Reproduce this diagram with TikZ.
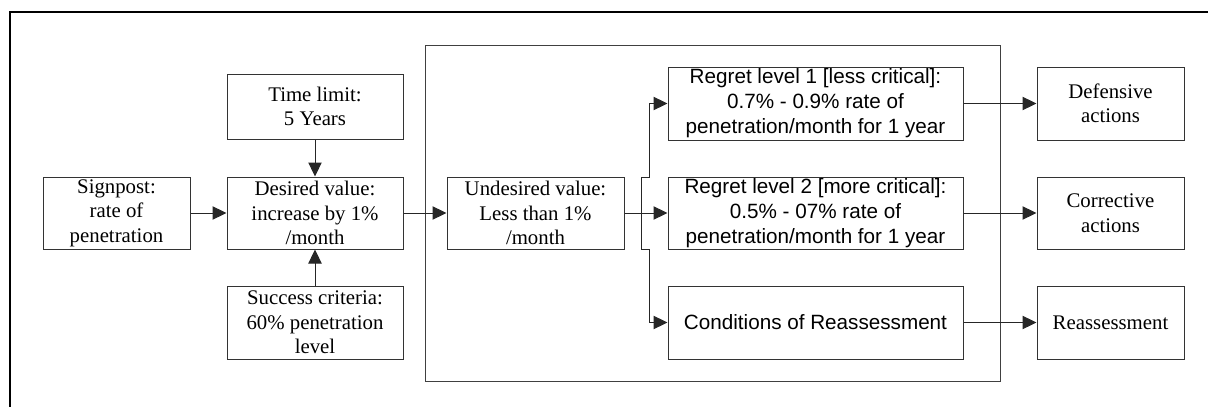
\documentclass[tikz,border=0pt]{standalone}
\usepackage{fontspec}
\setmainfont{Liberation Serif}
\newfontfamily\arialfont{Liberation Sans}
\usetikzlibrary{arrows.meta}
\tikzset{
  box/.style={draw=black!80, line width=0.75pt, inner sep=0pt, align=center},
  serif/.style={box, font=\fontsize{15.6}{18.4}\selectfont},
  sans/.style={box, font=\arialfont\fontsize{15.5}{18.75}\selectfont},
  conn/.style={draw=black!85, line width=0.75pt},
  arr/.style={conn, -{Triangle[length=10.5pt, width=10pt]}},
}
\begin{document}
\begin{tikzpicture}[x=0.75pt, y=-0.75pt]
\useasboundingbox (0,0) rectangle (1208,407);
% outer frame (top and left only visible)
\draw[line width=1.5pt, line cap=rect] (9.5,407) -- (9.5,12) -- (1208,12);
% container box
\node[draw=black!75, line width=0.75pt, inner sep=0pt, minimum width=431.25pt, minimum height=252pt] (cont) at (712.5,213) {};
% left part
\node[serif, minimum width=110.25pt, minimum height=54pt] (sign) at (116.5,213) {Signpost:\\rate of\\penetration};
\node[serif, minimum width=132pt, minimum height=48.75pt] (time) at (315,106.5) {Time limit:\\5 Years};
\node[serif, minimum width=132pt, minimum height=54pt] (des) at (315,213) {Desired value:\\increase by 1\%\\/month};
\node[serif, minimum width=132pt, minimum height=54.75pt] (succ) at (315,322.5) {Success criteria:\\60\% penetration\\level};
\node[serif, minimum width=132.75pt, minimum height=54pt] (und) at (535.5,213) {Undesired value:\\Less than 1\%\\/month};
% regret boxes
\node[sans, minimum width=221.25pt, minimum height=54.75pt] (reg1) at (815.5,103.5) {Regret level 1 [less critical]:\\0.7\% - 0.9\% rate of\\penetration/month for 1 year};
\node[sans, minimum width=221.25pt, minimum height=54pt] (reg2) at (815.5,213) {Regret level 2 [more critical]:\\0.5\% - 07\% rate of\\penetration/month for 1 year};
\node[sans, minimum width=221.25pt, minimum height=54.75pt] (cond) at (815.5,322.5) {Conditions of Reassessment};
% action boxes
\node[serif, minimum width=110.25pt, minimum height=54.75pt] (def) at (1110.5,103.5) {Defensive\\actions};
\node[serif, minimum width=110.25pt, minimum height=54pt] (corr) at (1110.5,213) {Corrective\\actions};
\node[serif, minimum width=110.25pt, minimum height=54.75pt] (reas) at (1110.5,322.5) {Reassessment};
% connectors
\draw[arr] (sign) -- (des);
\draw[arr] (time) -- (des);
\draw[arr] (succ) -- (des);
\draw[arr] (des) -- (und);
\draw[arr] (und) -- (reg2);
\coordinate (jt) at (641,177);
\coordinate (jb) at (641,249);
\coordinate (kt) at (649,177);
\coordinate (kb) at (649,249);
\draw[conn] (jt) -- (jb);
\draw[arr] (jt) -- (kt) |- (reg1.west);
\draw[arr] (jb) -- (kb) |- (cond.west);
\draw[arr] (reg1) -- (def);
\draw[arr] (reg2) -- (corr);
\draw[arr] (cond) -- (reas);
\end{tikzpicture}
\end{document}
